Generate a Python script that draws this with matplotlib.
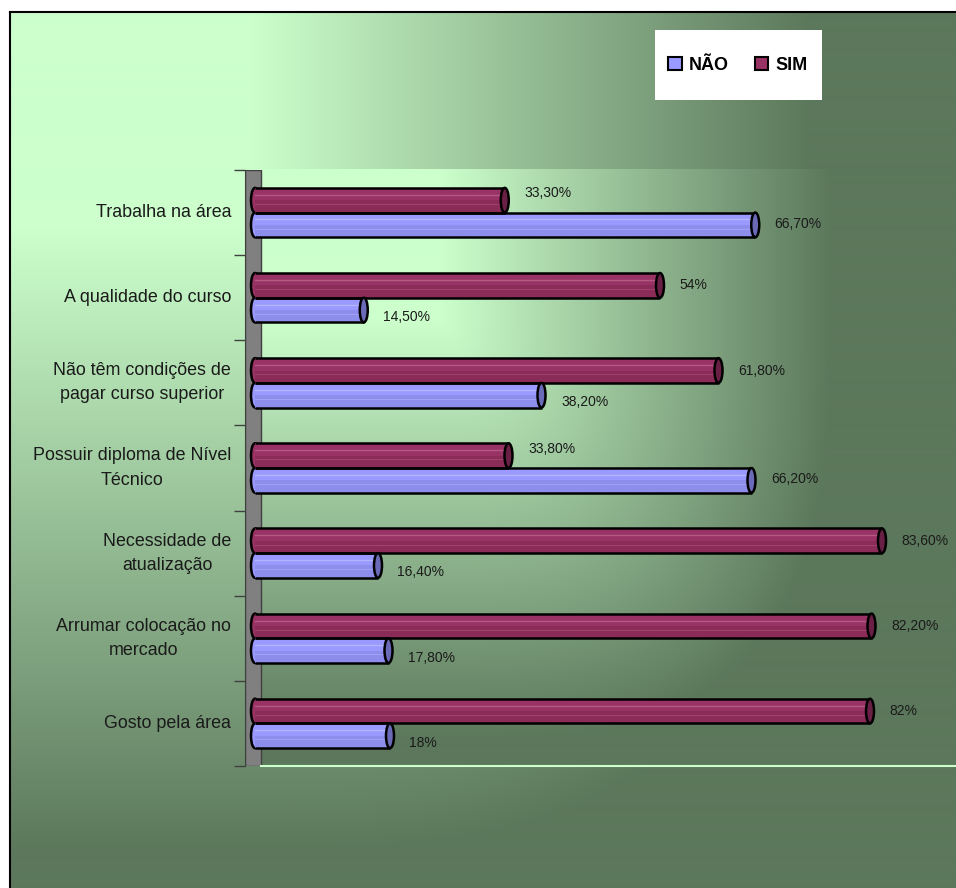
import numpy as np
import matplotlib
matplotlib.use("Agg")
import matplotlib.pyplot as plt
from matplotlib.patches import Ellipse, Rectangle, Patch

# data
categories = [
    "Trabalha na área",
    "A qualidade do curso",
    "Não têm condições de\npagar curso superior",
    "Possuir diploma de Nível\nTécnico",
    "Necessidade de\natualização",
    "Arrumar colocação no\nmercado",
    "Gosto pela área",
]
sim_values = [33.3, 54, 61.8, 33.8, 83.6, 82.2, 82]
nao_values = [66.7, 14.5, 38.2, 66.2, 16.4, 17.8, 18]
series_names = ["NÃO", "SIM"]

# colours
NAO_COL, NAO_DARK, NAO_CAP, NAO_HI = "#9999ff", "#8585e0", "#6a6ab8", "#b4b4ff"
SIM_COL, SIM_DARK, SIM_CAP, SIM_HI = "#993366", "#82284f", "#6a1f45", "#b35a82"
LIGHT = np.array([204, 255, 204]) / 255
DARK = np.array([92, 120, 92]) / 255

W, H = 956, 888
fig = plt.figure(figsize=(W / 100, H / 100), dpi=100)
fig.patch.set_facecolor("white")

# background (pixel coordinates)
bg = fig.add_axes([0, 0, 1, 1])
bg.set_xlim(0, W)
bg.set_ylim(H, 0)
bg.axis("off")


def corner_gradient(x0, x1, y0, y1, xa, xspan, ya, yspan, p=3):
    gx, gy = np.meshgrid(np.arange(x0, x1), np.arange(y0, y1))
    tx = np.clip((gx - xa) / xspan, 0, 1)
    ty = np.clip((gy - ya) / yspan, 0, 1)
    t = np.clip((tx ** p + ty ** p) ** (1 / p), 0, 1)[..., None]
    return LIGHT * (1 - t) + DARK * t


outer = corner_gradient(10, W, 12, H, 250, 560, 230, 620)
bg.imshow(outer, extent=(10, W, H, 12), aspect="auto", zorder=0)
inner = corner_gradient(245, W, 170, 766, 440, 390, 320, 420)
bg.imshow(inner, extent=(245, W, 766, 170), aspect="auto", zorder=1)
bg.plot([10, 10], [12, H], color="black", lw=1.5, zorder=2)
bg.plot([10, W], [12, 12], color="black", lw=1.5, zorder=2)

# legend box
bg.add_patch(Rectangle((655, 30), 167, 70, facecolor="white", edgecolor="none", zorder=3))

# main axes
ax_left, ax_right, ax_top, ax_bottom = 245, W, 170, 766
zero_px, px_per_unit = 255, 7.5
ax = fig.add_axes([ax_left / W, 1 - ax_bottom / H, (ax_right - ax_left) / W, (ax_bottom - ax_top) / H])
ax.set_facecolor("none")
ax.set_xlim((ax_left - zero_px) / px_per_unit, (ax_right - zero_px) / px_per_unit)
ax.set_ylim(len(categories) - 0.5, -0.5)

# wall and floor
wall_right = (261 - zero_px) / px_per_unit
ax.add_patch(Rectangle((ax.get_xlim()[0], -0.5), wall_right - ax.get_xlim()[0], len(categories),
                       facecolor="#808080", edgecolor="#404040", lw=1.0, zorder=1))
ax.plot([wall_right, ax.get_xlim()[1]], [len(categories) - 0.5] * 2, color="#ccffcc", lw=1.5,
        zorder=1, clip_on=False)

bar_h = 0.29
cap_w = 8 / px_per_unit


def cylinder(y, v, col, dark, cap, hi):
    top, bot = y - bar_h / 2, y + bar_h / 2
    # left rounded end
    ax.add_patch(Ellipse((0, y), cap_w, bar_h, facecolor=col, edgecolor="black", lw=1.8, zorder=3))
    ax.barh(y, v, height=bar_h, color=col, edgecolor="none", zorder=4)
    ax.barh(y + bar_h * 0.25, v, height=bar_h * 0.5, color=dark, edgecolor="none", zorder=4, alpha=0.6)
    ax.plot([0, v], [y - bar_h * 0.22] * 2, color=hi, lw=1.0, zorder=5)
    ax.plot([0, v], [y + bar_h * 0.15] * 2, color=hi, lw=0.6, alpha=0.6, zorder=5)
    ax.plot([0, v], [top, top], color="black", lw=1.8, zorder=6, solid_capstyle="butt")
    ax.plot([0, v], [bot, bot], color="black", lw=1.8, zorder=6, solid_capstyle="butt")
    ax.add_patch(Ellipse((v, y), cap_w, bar_h, facecolor=cap, edgecolor="black", lw=1.8, zorder=7))


def fmt(v):
    if float(v).is_integer():
        return f"{int(v)}%"
    return f"{v:.2f}".replace(".", ",") + "%"


for i, (s, n) in enumerate(zip(sim_values, nao_values)):
    ys, yn = i - bar_h / 2, i + bar_h / 2
    cylinder(ys, s, SIM_COL, SIM_DARK, SIM_CAP, SIM_HI)
    cylinder(yn, n, NAO_COL, NAO_DARK, NAO_CAP, NAO_HI)
    # labels nudged apart like the original
    s_dy = 5 if s < n else 0
    n_dy = 1 if n > s else -5
    ax.annotate(fmt(s), (s, ys), xytext=(14, s_dy), textcoords="offset points",
                ha="left", va="center", fontsize=10, color="#1a1a1a", family="Liberation Sans")
    ax.annotate(fmt(n), (n, yn), xytext=(14, n_dy), textcoords="offset points",
                ha="left", va="center", fontsize=10, color="#1a1a1a", family="Liberation Sans")

# ticks at category boundaries
ax.set_yticks(np.arange(-0.5, len(categories)))
ax.set_yticklabels([])
ax.tick_params(axis="y", which="major", length=8, width=1.0, color="#404040", direction="out")
ax.set_xticks([])
for side in ["top", "right", "bottom"]:
    ax.spines[side].set_visible(False)
ax.spines["left"].set_color("#404040")

# category labels
lab_tr = ax.get_yaxis_transform()
for i, cat in enumerate(categories):
    ax.annotate(cat, (0, i), xycoords=lab_tr, xytext=(-10, 0), textcoords="offset points",
                ha="right", va="center", multialignment="center", linespacing=1.55,
                fontsize=12.9, family="Liberation Sans", color="#1a1a1a")

# legend
handles = [Patch(facecolor=NAO_COL, edgecolor="black", lw=1.5),
           Patch(facecolor=SIM_COL, edgecolor="black", lw=1.5)]
fig.legend(handles, series_names, ncol=2, frameon=False,
           loc="center", bbox_to_anchor=(738 / W, 1 - 65 / H),
           prop={"family": "Liberation Sans", "weight": "bold", "size": 13},
           handlelength=0.75, handleheight=0.75, handletextpad=0.4, columnspacing=1.4)

fig.savefig("out.png", dpi=100)
